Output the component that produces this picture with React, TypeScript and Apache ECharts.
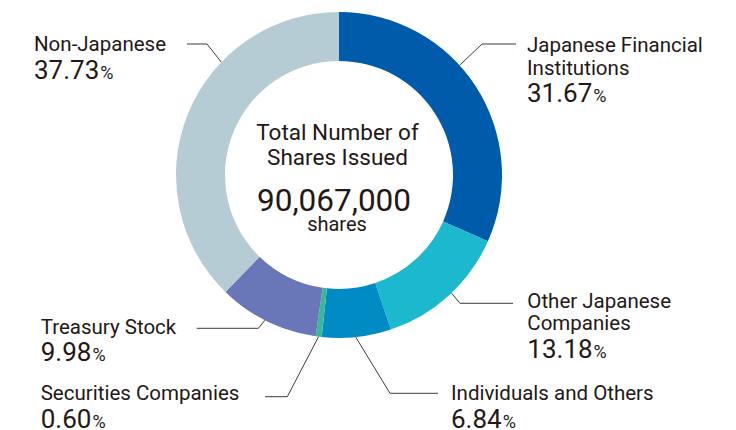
import React, { useEffect, useRef } from 'react';
import * as echarts from 'echarts';

// ---- data ----
const categories = [
  'Japanese Financial Institutions',
  'Other Japanese Companies',
  'Individuals and Others',
  'Securities Companies',
  'Treasury Stock',
  'Non-Japanese',
];
const labelNames = [
  'Japanese Financial\nInstitutions',
  'Other Japanese\nCompanies',
  'Individuals and Others',
  'Securities Companies',
  'Treasury Stock',
  'Non-Japanese',
];
const sharePercents = [31.67, 13.18, 6.84, 0.6, 9.98, 37.73];
const centerTitle = ['Total Number of', 'Shares Issued'];
const centerValue = '90,067,000';
const centerUnit = 'shares';

// ---- styles / layout ----
const colors = ['#005BAB', '#1CB8CE', '#008BC4', '#3BB89A', '#6977B8', '#B6CCD4'];
const TEXT = '#231815';
const LINE = '#3E3A39';
const FONT = 'Roboto, "Liberation Sans", sans-serif';
const CX = 339;
const CY = 175;
const R_IN = 114;
const R_OUT = 163;

// anchor: angle (deg, clockwise from top) where the leader line meets the ring
const labelLayouts = [
  { anchor: 47.7, elbow: [482, 44], end: [516, 44], x: 527, y: 33.8 },
  { anchor: 136.4, elbow: [460, 303.3], end: [513, 303.3], x: 527.3, y: 289.3 },
  { anchor: 174.1, elbow: [390, 393.3], end: [438, 393.3], x: 451, y: 381.8 },
  { anchor: 187.2, elbow: [287.3, 396.7], end: [265, 396.7], x: 40.7, y: 381.8 },
  { anchor: 207, elbow: [258.3, 328.3], end: [196.7, 328.3], x: 40.7, y: 315.6 },
  { anchor: 313.8, elbow: [207, 44], end: [187, 44], x: 34, y: 33.2 },
];

export default function App() {
  const ref = useRef<HTMLDivElement>(null);
  useEffect(() => {
    if (!ref.current) return;
    const chart = echarts.init(ref.current, undefined, { renderer: 'svg' });
    const option: any = {
      animation: false,
      backgroundColor: '#ffffff',
      series: [
        {
          type: 'pie',
          center: [CX, CY],
          radius: [R_IN, R_OUT],
          startAngle: 90,
          clockwise: true,
          avoidLabelOverlap: false,
          silent: true,
          data: categories.map((name, i) => ({
            name,
            value: sharePercents[i],
            itemStyle: { color: colors[i] },
          })),
          itemStyle: { borderWidth: 0 },
          label: {
            show: true,
            position: 'outside',
            color: TEXT,
            fontFamily: FONT,
            formatter: (p: any) =>
              `{name|${labelNames[p.dataIndex]}}\n{num|${sharePercents[p.dataIndex].toFixed(2)}}{unit|%}`,
            rich: {
              name: { fontSize: 20.5, lineHeight: 22.5, color: TEXT, fontFamily: FONT },
              num: { fontSize: 26, lineHeight: 28.7, color: TEXT, fontFamily: FONT },
              unit: { fontSize: 18, lineHeight: 28.7, color: TEXT, fontFamily: FONT, padding: [5, 0, 0, 1] },
            },
          },
          labelLine: {
            show: true,
            length: 10,
            length2: 10,
            smooth: false,
            lineStyle: { color: LINE, width: 1 },
          },
          labelLayout: (params: any) => {
            const L = labelLayouts[params.dataIndex];
            const a = (L.anchor * Math.PI) / 180;
            const p = [CX + R_OUT * Math.sin(a), CY - R_OUT * Math.cos(a)];
            return {
              x: L.x,
              y: L.y,
              align: 'left',
              verticalAlign: 'top',
              labelLinePoints: [p, L.elbow, L.end],
            };
          },
        },
      ],
      graphic: [
        {
          type: 'text',
          style: { text: centerTitle[0], x: 337.5, y: 132.3, textAlign: 'center', textVerticalAlign: 'middle', fontSize: 22.5, fontFamily: FONT, fill: TEXT },
        },
        {
          type: 'text',
          style: { text: centerTitle[1], x: 337.5, y: 157.3, textAlign: 'center', textVerticalAlign: 'middle', fontSize: 22.5, fontFamily: FONT, fill: TEXT },
        },
        {
          type: 'text',
          style: { text: centerValue, x: 334, y: 200, textAlign: 'center', textVerticalAlign: 'middle', fontSize: 31.5, fontFamily: FONT, fill: TEXT },
        },
        {
          type: 'text',
          style: { text: centerUnit, x: 337, y: 224.2, textAlign: 'center', textVerticalAlign: 'middle', fontSize: 20, fontFamily: FONT, fill: TEXT },
        },
      ],
    };
    chart.setOption(option);
    return () => chart.dispose();
  }, []);
  return <div ref={ref} style={{ width: 736, height: 430, position: 'absolute', left: 0, top: 0 }} />;
}
